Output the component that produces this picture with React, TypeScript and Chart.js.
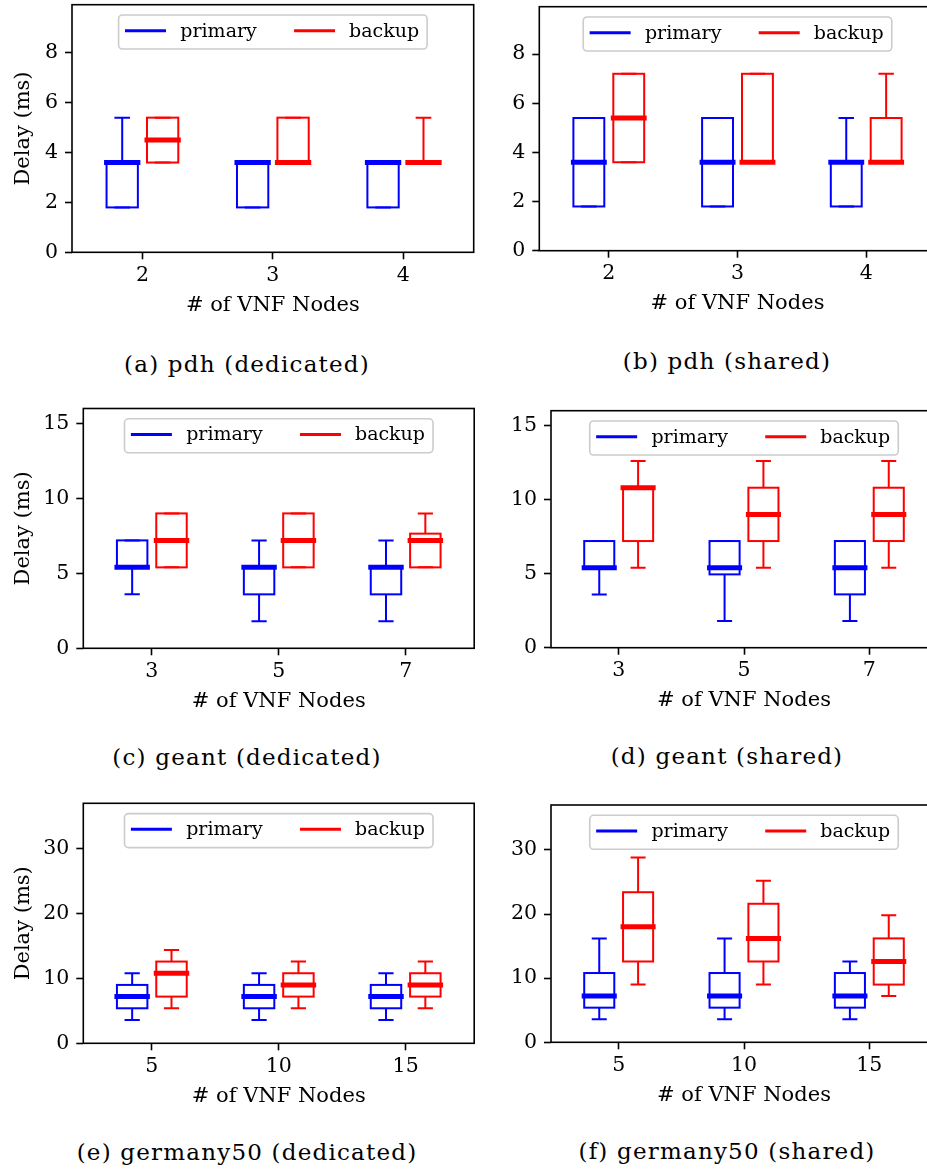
import React, { useEffect, useRef } from "react";
import { Chart, registerables } from "chart.js";

Chart.register(...registerables);

// ---------- data ----------
// categories (x tick labels)
const pdhNodes = ["2", "3", "4"];
const geantNodes = ["3", "5", "7"];
const germanyNodes = ["5", "10", "15"];

// y tick values
const pdhYTicks = [0, 2, 4, 6, 8];
const geantYTicks = [0, 5, 10, 15];
const germanyYTicks = [0, 10, 20, 30];

// each entry: [lower whisker, Q1, median, Q3, upper whisker]  (ms)
const pdhDedicatedPrimary = [
  [1.8, 1.8, 3.6, 3.6, 5.4],
  [1.8, 1.8, 3.6, 3.6, 3.6],
  [1.8, 1.8, 3.6, 3.6, 3.6],
];
const pdhDedicatedBackup = [
  [3.6, 3.6, 4.5, 5.4, 5.4],
  [3.6, 3.6, 3.6, 5.4, 5.4],
  [3.6, 3.6, 3.6, 3.6, 5.4],
];
const pdhSharedPrimary = [
  [1.8, 1.8, 3.6, 5.4, 5.4],
  [1.8, 1.8, 3.6, 5.4, 5.4],
  [1.8, 1.8, 3.6, 3.6, 5.4],
];
const pdhSharedBackup = [
  [3.6, 3.6, 5.4, 7.2, 7.2],
  [3.6, 3.6, 3.6, 7.2, 7.2],
  [3.6, 3.6, 3.6, 5.4, 7.2],
];
const geantDedicatedPrimary = [
  [3.6, 5.4, 5.4, 7.2, 7.2],
  [1.8, 3.6, 5.4, 5.4, 7.2],
  [1.8, 3.6, 5.4, 5.4, 7.2],
];
const geantDedicatedBackup = [
  [5.4, 5.4, 7.2, 9.0, 9.0],
  [5.4, 5.4, 7.2, 9.0, 9.0],
  [5.4, 5.4, 7.2, 7.65, 9.0],
];
const geantSharedPrimary = [
  [3.6, 5.4, 5.4, 7.2, 7.2],
  [1.8, 4.95, 5.4, 7.2, 7.2],
  [1.8, 3.6, 5.4, 7.2, 7.2],
];
const geantSharedBackup = [
  [5.4, 7.2, 10.8, 10.8, 12.6],
  [5.4, 7.2, 9.0, 10.8, 12.6],
  [5.4, 7.2, 9.0, 10.8, 12.6],
];
const germanyDedicatedPrimary = [
  [3.6, 5.4, 7.2, 9.0, 10.8],
  [3.6, 5.4, 7.2, 9.0, 10.8],
  [3.6, 5.4, 7.2, 9.0, 10.8],
];
const germanyDedicatedBackup = [
  [5.4, 7.2, 10.8, 12.6, 14.4],
  [5.4, 7.2, 9.0, 10.8, 12.6],
  [5.4, 7.2, 9.0, 10.8, 12.6],
];
const germanySharedPrimary = [
  [3.6, 5.4, 7.2, 10.8, 16.2],
  [3.6, 5.4, 7.2, 10.8, 16.2],
  [3.6, 5.4, 7.2, 10.8, 12.6],
];
const germanySharedBackup = [
  [9.0, 12.6, 18.0, 23.4, 28.8],
  [9.0, 12.6, 16.2, 21.6, 25.2],
  [7.2, 9.0, 12.6, 16.2, 19.8],
];

const seriesNames = ["primary", "backup"];

// ---------- style ----------
const SERIF = "'DejaVu Serif', serif";
const BLUE = "#0000ff";
const RED = "#ff0000";
const BOX_OFFSET = 0.155;
const BOX_WIDTH = 0.24;
const TICK_SIZE = 20.5;
const TITLE_SIZE = 21;

const boxPlotPlugin = {
  id: "boxPlot",
  afterDatasetsDraw(chart: any) {
    const { ctx } = chart;
    const x = chart.scales.x;
    const y = chart.scales.y;
    ctx.save();
    chart.data.datasets.forEach((ds: any) => {
      const color = ds.borderColor;
      ds.stats.forEach((s: number[], i: number) => {
        const c = i + ds.offset;
        const xl = x.getPixelForValue(c - BOX_WIDTH / 2);
        const xr = x.getPixelForValue(c + BOX_WIDTH / 2);
        const xc = x.getPixelForValue(c);
        const cl = x.getPixelForValue(c - BOX_WIDTH / 4);
        const cr = x.getPixelForValue(c + BOX_WIDTH / 4);
        const [lo, q1, med, q3, hi] = s.map((v) => y.getPixelForValue(v));
        ctx.strokeStyle = color;
        ctx.lineWidth = 2;
        ctx.lineCap = "butt";
        // box
        ctx.strokeRect(xl, q3, xr - xl, q1 - q3);
        // whiskers
        ctx.beginPath();
        ctx.moveTo(xc, q1);
        ctx.lineTo(xc, lo);
        ctx.moveTo(xc, q3);
        ctx.lineTo(xc, hi);
        // caps
        ctx.moveTo(cl, lo);
        ctx.lineTo(cr, lo);
        ctx.moveTo(cl, hi);
        ctx.lineTo(cr, hi);
        ctx.stroke();
        // median
        ctx.lineWidth = 5;
        ctx.lineCap = "square";
        ctx.beginPath();
        ctx.moveTo(xl, med);
        ctx.lineTo(xr, med);
        ctx.stroke();
      });
    });
    ctx.restore();
  },
};

const framePlugin = {
  id: "frame",
  afterDraw(chart: any) {
    const { ctx, chartArea: a } = chart;
    ctx.save();
    ctx.strokeStyle = "#000";
    ctx.lineWidth = 1.6;
    ctx.strokeRect(a.left, a.top, a.right - a.left, a.bottom - a.top);
    ctx.restore();
  },
};

const legendPlugin = {
  id: "boxLegend",
  afterDraw(chart: any) {
    const { ctx, chartArea: a } = chart;
    const ds = chart.data.datasets;
    ctx.save();
    ctx.font = `19px ${SERIF}`;
    const w1 = ctx.measureText(ds[0].label).width;
    const w2 = ctx.measureText(ds[1].label).width;
    const total = 6.4 + 41 + 14.3 + w1 + 37.3 + 41 + 14 + w2 + 8;
    const left = (a.left + a.right) / 2 - total / 2;
    const top = a.top + 10.3;
    const h = 34;
    ctx.fillStyle = "rgba(255,255,255,0.8)";
    ctx.strokeStyle = "#cccccc";
    ctx.lineWidth = 1.6;
    ctx.beginPath();
    ctx.roundRect(left, top, total, h, 4);
    ctx.fill();
    ctx.stroke();
    let cx = left + 6.4;
    const ly = top + 15.7;
    const by = top + 21.5;
    ctx.textBaseline = "alphabetic";
    ctx.textAlign = "left";
    [0, 1].forEach((k) => {
      ctx.strokeStyle = ds[k].borderColor;
      ctx.lineWidth = 3;
      ctx.lineCap = "butt";
      ctx.beginPath();
      ctx.moveTo(cx, ly);
      ctx.lineTo(cx + 41, ly);
      ctx.stroke();
      cx += 41 + (k === 0 ? 14.3 : 14);
      ctx.fillStyle = "#000";
      ctx.fillText(ds[k].label, cx, by);
      cx += (k === 0 ? w1 : w2) + 37.3;
    });
    ctx.restore();
  },
};

type Area = { left: number; top: number; right: number; bottom: number };
interface PanelSpec {
  key: string;
  labels: string[];
  primary: number[][];
  backup: number[][];
  yMax: number;
  yTicks: number[];
  yTitle: boolean;
  canvasLeft: number;
  canvasTop: number;
  area: Area;
  caption: string;
  capX: number;
  capBase: number;
}

const panels: PanelSpec[] = [
  {
    key: "a", labels: pdhNodes, primary: pdhDedicatedPrimary, backup: pdhDedicatedBackup,
    yMax: 9.93, yTicks: pdhYTicks, yTitle: true, canvasLeft: 0, canvasTop: 0,
    area: { left: 72, top: 4.7, right: 473.7, bottom: 252.3 },
    caption: "(a) pdh (dedicated)", capX: 247, capBase: 372,
  },
  {
    key: "b", labels: pdhNodes, primary: pdhSharedPrimary, backup: pdhSharedBackup,
    yMax: 9.93, yTicks: pdhYTicks, yTitle: false, canvasLeft: 470, canvasTop: 0,
    area: { left: 539.3, top: 6.7, right: 935.7, bottom: 250.7 },
    caption: "(b) pdh (shared)", capX: 727, capBase: 369,
  },
  {
    key: "c", labels: geantNodes, primary: geantDedicatedPrimary, backup: geantDedicatedBackup,
    yMax: 16, yTicks: geantYTicks, yTitle: true, canvasLeft: 0, canvasTop: 400,
    area: { left: 83.3, top: 408.5, right: 474.2, bottom: 648.3 },
    caption: "(c) geant (dedicated)", capX: 247, capBase: 765,
  },
  {
    key: "d", labels: geantNodes, primary: geantSharedPrimary, backup: geantSharedBackup,
    yMax: 16, yTicks: geantYTicks, yTitle: false, canvasLeft: 470, canvasTop: 400,
    area: { left: 551, top: 410.7, right: 937, bottom: 647.7 },
    caption: "(d) geant (shared)", capX: 727, capBase: 764,
  },
  {
    key: "e", labels: germanyNodes, primary: germanyDedicatedPrimary, backup: germanyDedicatedBackup,
    yMax: 37, yTicks: germanyYTicks, yTitle: true, canvasLeft: 0, canvasTop: 795,
    area: { left: 83.3, top: 803.3, right: 474.2, bottom: 1043.3 },
    caption: "(e) germany50 (dedicated)", capX: 247, capBase: 1160,
  },
  {
    key: "f", labels: germanyNodes, primary: germanySharedPrimary, backup: germanySharedBackup,
    yMax: 37, yTicks: germanyYTicks, yTitle: false, canvasLeft: 470, canvasTop: 795,
    area: { left: 551, top: 805, right: 937, bottom: 1042.3 },
    caption: "(f) germany50 (shared)", capX: 727, capBase: 1159,
  },
];

function BoxPanel({ p }: { p: PanelSpec }) {
  const ref = useRef<HTMLCanvasElement>(null);
  const width = 480;
  const height = Math.ceil(p.area.bottom - p.canvasTop + 67);
  useEffect(() => {
    const canvas = ref.current;
    if (!canvas) return;
    const yAxisW = p.area.left - p.canvasLeft;
    const xAxisH = height - (p.area.bottom - p.canvasTop);
    const tickFont = { size: TICK_SIZE, family: SERIF };
    const titleFont = { size: TITLE_SIZE, family: SERIF };
    const halfLine = (TITLE_SIZE * 1.2) / 2;
    const gridOpts = {
      display: true,
      drawOnChartArea: false,
      drawTicks: true,
      tickLength: 7,
      tickWidth: 1.6,
      tickColor: "#000",
    };
    const chart = new Chart(canvas, {
      type: "scatter",
      data: {
        datasets: [
          {
            label: seriesNames[0],
            data: p.primary.map((s, i) => ({ x: i - BOX_OFFSET, y: s[2] })),
            stats: p.primary,
            offset: -BOX_OFFSET,
            borderColor: BLUE,
            backgroundColor: BLUE,
            pointRadius: 0,
            showLine: false,
          } as any,
          {
            label: seriesNames[1],
            data: p.backup.map((s, i) => ({ x: i + BOX_OFFSET, y: s[2] })),
            stats: p.backup,
            offset: BOX_OFFSET,
            borderColor: RED,
            backgroundColor: RED,
            pointRadius: 0,
            showLine: false,
          } as any,
        ],
      },
      options: {
        responsive: false,
        animation: false,
        devicePixelRatio: 1,
        layout: {
          padding: {
            left: 0,
            top: p.area.top - p.canvasTop,
            right: width - (p.area.right - p.canvasLeft),
            bottom: 0,
          },
        },
        plugins: {
          legend: { display: false },
          tooltip: { enabled: false },
        },
        scales: {
          x: {
            type: "linear",
            min: -0.54,
            max: 2.54,
            afterBuildTicks: (s: any) => {
              s.ticks = p.labels.map((_, i) => ({ value: i }));
            },
            afterFit: (s: any) => {
              s.height = xAxisH;
              s.paddingLeft = 0;
              s.paddingRight = 0;
            },
            ticks: {
              callback: (v: any) => p.labels[v] ?? "",
              padding: 4,
              font: tickFont,
              color: "#000",
              maxRotation: 0,
              autoSkip: false,
            },
            grid: gridOpts,
            border: { display: false },
            title: {
              display: true,
              text: "# of VNF Nodes",
              font: titleFont,
              color: "#000",
              padding: { top: 0, bottom: xAxisH - halfLine - 53 },
            },
          },
          y: {
            type: "linear",
            min: 0,
            max: p.yMax,
            afterBuildTicks: (s: any) => {
              s.ticks = p.yTicks.map((v) => ({ value: v }));
            },
            afterFit: (s: any) => {
              s.width = yAxisW;
              s.paddingTop = 0;
              s.paddingBottom = 0;
            },
            ticks: {
              padding: 7,
              font: tickFont,
              color: "#000",
              callback: (v: any) => String(v),
            },
            grid: gridOpts,
            border: { display: false },
            title: {
              display: p.yTitle,
              text: "Delay (ms)",
              font: titleFont,
              color: "#000",
              padding: { top: 24 - halfLine, bottom: 0 },
            },
          },
        },
      } as any,
      plugins: [boxPlotPlugin, framePlugin, legendPlugin],
    });
    return () => chart.destroy();
  }, []);
  return (
    <canvas
      ref={ref}
      width={width}
      height={height}
      style={{ position: "absolute", left: p.canvasLeft, top: p.canvasTop, width, height }}
    />
  );
}

export default function App() {
  return (
    <div
      style={{
        position: "absolute",
        left: 0,
        top: 0,
        width: 927,
        height: 1170,
        overflow: "hidden",
        background: "#fff",
      }}
    >
      {panels.map((p) => (
        <BoxPanel key={p.key} p={p} />
      ))}
      {panels.map((p) => (
        <div
          key={"cap" + p.key}
          style={{
            position: "absolute",
            left: p.capX - 250,
            width: 500,
            top: p.capBase - 21.9,
            fontFamily: SERIF,
            fontSize: 23,
            lineHeight: "28px",
            letterSpacing: "1.2px",
            textAlign: "center",
            color: "#000",
            whiteSpace: "nowrap",
          }}
        >
          {p.caption}
        </div>
      ))}
    </div>
  );
}
